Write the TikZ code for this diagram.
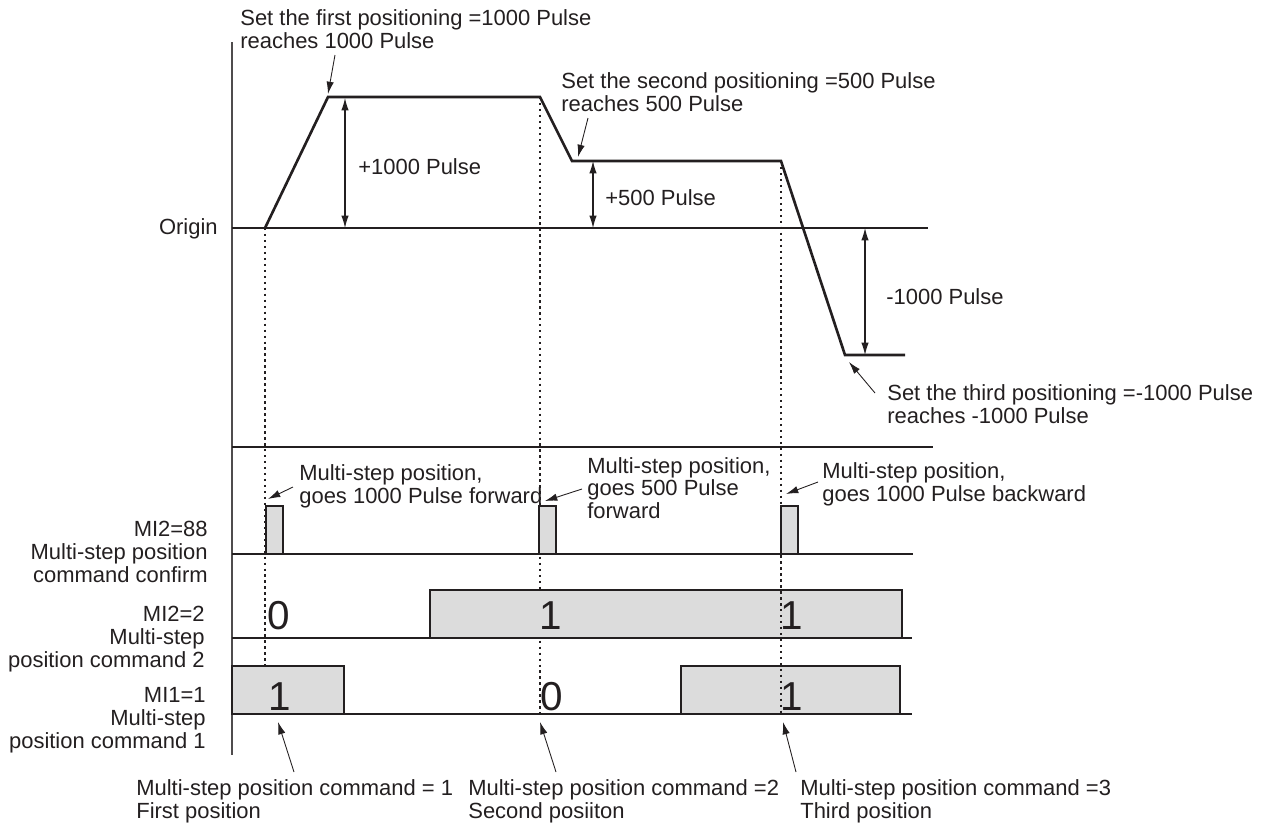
\documentclass[tikz,border=0pt]{standalone}
\usepackage{fontspec}
\setmainfont{Liberation Sans}
\usetikzlibrary{arrows.meta}
\definecolor{ink}{HTML}{231F20}
\definecolor{boxgray}{HTML}{DCDCDC}
\tikzset{
  txt/.style={font=\fontsize{12.5}{13}\selectfont, inner sep=0pt, text=ink},
  lbl/.style={txt, align=left, anchor=west},
  rlbl/.style={txt, align=right, anchor=east},
  digit/.style={font=\fontsize{23}{23}\selectfont, inner sep=0pt, text=ink},
  thin/.style={draw=ink, line width=0.6pt},
  axis/.style={draw=ink!80, line width=0.9pt},
  traj/.style={draw=ink, line width=1.5pt, line join=miter},
  guide/.style={draw=ink, line width=1.1pt, dash pattern=on 1.4pt off 2pt},
  sig/.style={draw=ink, line width=0.7pt, fill=boxgray},
  pointer/.style={draw=ink, line width=0.5pt, -{Latex[length=7pt,width=4.2pt]}},
  dim/.style={draw=ink, line width=0.6pt, {Latex[length=7pt,width=4.2pt]}-{Latex[length=7pt,width=4.2pt]}},
}
\begin{document}
\begin{tikzpicture}[x=0.02cm, y=-0.02cm]
\useasboundingbox (0,0) rectangle (1271,826);

% key points of the trajectory
\coordinate (p0) at (265,228);
\coordinate (p1) at (328,97);
\coordinate (p2) at (540,97);
\coordinate (p3) at (572,161);
\coordinate (p4) at (781,161);
\coordinate (p5) at (845,355);
\coordinate (p6) at (905,355);

% frame lines
\coordinate (axT) at (232,42);
\coordinate (axB) at (232,755);
\coordinate (orL) at (232,228);
\coordinate (orR) at (928,228);
\coordinate (sepL) at (232,447);
\coordinate (sepR) at (933,447);
\coordinate (r1L) at (232,554);
\coordinate (r1R) at (913,554);
\coordinate (r2L) at (232,638);
\coordinate (r2R) at (912,638);
\coordinate (r3L) at (232,714);
\coordinate (r3R) at (912,714);

% dotted guides (the first two run under the signal boxes)
\coordinate (g1b) at (265,666);
\coordinate (g2b) at (540,714);
\coordinate (g3b) at (781,714);
\draw[guide] (p0) -- (g1b);
\draw[guide] (p2) -- (g2b);

\draw[axis] (axT) -- (axB);
\draw[thin] (orL) -- (orR);
\draw[thin] (sepL) -- (sepR);
\draw[thin] (r1L) -- (r1R);
\draw[thin] (r2L) -- (r2R);
\draw[thin] (r3L) -- (r3R);

% trajectory
\draw[traj] (p0) -- (p1) -- (p2) -- (p3) -- (p4) -- (p5) -- (p6);

% signal boxes
\draw[sig] (266,554) rectangle (283,506);
\draw[sig] (539,554) rectangle (556,506);
\draw[sig] (781,554) rectangle (798,506);
\draw[sig] (430,638) rectangle (902,590);
\draw[sig] (232,714) rectangle (344,666);
\draw[sig] (681,714) rectangle (900,666);

\draw[guide] (p4) -- (g3b);

% dimension arrows
\coordinate (d1t) at (345,98);
\coordinate (d1b) at (345,228);
\coordinate (d2t) at (593,161);
\coordinate (d2b) at (593,228);
\coordinate (d3t) at (865,228);
\coordinate (d3b) at (865,355);
\draw[dim] (d1t) -- (d1b);
\draw[dim] (d2t) -- (d2b);
\draw[dim] (d3t) -- (d3b);
\node[lbl] (l1000) at (358,167) {+1000 Pulse};
\node[lbl] (l500) at (605,198) {+500 Pulse};
\node[lbl] (lm1000) at (886,297) {-1000 Pulse};
\node[rlbl] (origin) at (218,229) {Origin};

% positioning notes
\node[lbl] (set1) at (240,29) {Set the first positioning =1000 Pulse\\reaches 1000 Pulse};
\node[lbl] (set2) at (561,92) {Set the second positioning =500 Pulse\\reaches 500 Pulse};
\node[lbl] (set3) at (887,404) {Set the third positioning =-1000 Pulse\\reaches -1000 Pulse};
\coordinate (a1s) at (335,55);
\coordinate (a1e) at (328,94);
\coordinate (a2s) at (588,118);
\coordinate (a2e) at (578,157);
\coordinate (a3s) at (875,393);
\coordinate (a3e) at (849,362);
\draw[pointer] (a1s) -- (a1e);
\draw[pointer] (a2s) -- (a2e);
\draw[pointer] (a3s) -- (a3e);

% pulse notes
\node[lbl] (m1) at (299,486) {Multi-step position,\\goes 1000 Pulse forward};
\node[lbl] (m2) at (587,488) {Multi-step position,\\goes 500 Pulse\\forward};
\node[lbl] (m3) at (822,484) {Multi-step position,\\goes 1000 Pulse backward};
\coordinate (b1s) at (293,487);
\coordinate (b1e) at (268,499);
\coordinate (b2s) at (582,489);
\coordinate (b2e) at (545,501);
\coordinate (b3s) at (818,482);
\coordinate (b3e) at (786,494);
\draw[pointer] (b1s) -- (b1e);
\draw[pointer] (b2s) -- (b2e);
\draw[pointer] (b3s) -- (b3e);

% row labels
\node[rlbl] (row1) at (208,552) {MI2=88\\Multi-step position\\command confirm};
\node[rlbl] (row2) at (205,639) {MI2=2\\Multi-step\\position command 2};
\node[rlbl] (row3) at (206,720) {MI1=1\\Multi-step\\position command 1};

% digits
\node[digit] (v21) at (279,616) {0};
\node[digit] (v22) at (551,616) {1};
\node[digit] (v23) at (792,616) {1};
\node[digit] (v11) at (280,697) {1};
\node[digit] (v12) at (552,697) {0};
\node[digit] (v13) at (792,697) {1};

% bottom notes
\node[lbl] (c1) at (136,801) {Multi-step position command = 1\\First position};
\node[lbl] (c2) at (468,801) {Multi-step position command =2\\Second posiiton};
\node[lbl] (c3) at (800,801) {Multi-step position command =3\\Third position};
\coordinate (e1s) at (294,772);
\coordinate (e1e) at (278,722);
\coordinate (e2s) at (556,772);
\coordinate (e2e) at (540,722);
\coordinate (e3s) at (796,772);
\coordinate (e3e) at (783,722);
\draw[pointer] (e1s) -- (e1e);
\draw[pointer] (e2s) -- (e2e);
\draw[pointer] (e3s) -- (e3e);
\end{tikzpicture}
\end{document}
